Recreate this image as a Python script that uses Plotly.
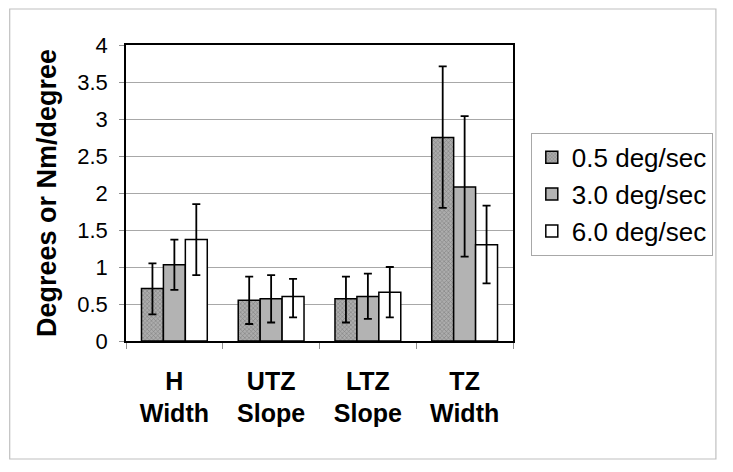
import plotly.graph_objects as go

categories = ["H Width", "UTZ Slope", "LTZ Slope", "TZ Width"]
tick_labels = ["<b>H</b><br><b>Width</b>", "<b>UTZ</b><br><b>Slope</b>",
               "<b>LTZ</b><br><b>Slope</b>", "<b>TZ</b><br><b>Width</b>"]
series_names = ["0.5 deg/sec", "3.0 deg/sec", "6.0 deg/sec"]
values_05 = [0.71, 0.55, 0.57, 2.75]
upper_05 = [1.05, 0.87, 0.87, 3.71]
lower_05 = [0.36, 0.23, 0.25, 1.80]
values_30 = [1.03, 0.57, 0.60, 2.08]
upper_30 = [1.37, 0.89, 0.91, 3.04]
lower_30 = [0.69, 0.25, 0.30, 1.14]
values_60 = [1.37, 0.60, 0.66, 1.30]
upper_60 = [1.85, 0.84, 1.00, 1.83]
lower_60 = [0.89, 0.32, 0.32, 0.78]

fig = go.Figure()
styles = [
    dict(color="#a0a0a0", pattern=dict(shape="x", size=3, fgcolor="#505050", bgcolor="#adadad", solidity=0.35)),
    dict(color="#b3b3b3"),
    dict(color="#ffffff"),
]
data = [(values_05, upper_05, lower_05), (values_30, upper_30, lower_30), (values_60, upper_60, lower_60)]
for name, (v, up, lo), st in zip(series_names, data, styles):
    fig.add_trace(go.Bar(
        x=categories, y=v, name=name,
        marker=dict(line=dict(color="black", width=1.5), **st),
        error_y=dict(type="data", symmetric=False,
                     array=[u - a for u, a in zip(up, v)],
                     arrayminus=[a - l for a, l in zip(v, lo)],
                     color="black", thickness=1.8, width=4),
    ))

fig.update_layout(
    width=717, height=456,
    margin=dict(l=118, r=208, t=37, b=123),
    paper_bgcolor="white", plot_bgcolor="white",
    barmode="group", bargap=0.32, bargroupgap=0,
    font=dict(family="Liberation Sans, Arial", size=21, color="black"),
    showlegend=True,
    legend=dict(x=1.046, y=0.703, xanchor="left", yanchor="top",
                bordercolor="#a8a8a8", borderwidth=1,
                font=dict(size=26), itemwidth=30, tracegroupgap=0),
    yaxis=dict(range=[0, 4], dtick=0.5, showgrid=True, gridcolor="#a8a8a8",
               ticks="outside", ticklen=5, tickcolor="#909090",
               showline=True, linecolor="black", linewidth=1.5, mirror=True,
               tickfont=dict(size=22), zeroline=False, ticklabelstandoff=7,
               title=dict(text="<b>Degrees or Nm/degree</b>", font=dict(size=27), standoff=13)),
    xaxis=dict(showline=True, linecolor="black", linewidth=1.5, mirror=True,
               ticks="outside", tickson="boundaries", ticklen=6, tickcolor="#909090",
               tickfont=dict(size=25), ticklabelstandoff=17,
               tickvals=categories, ticktext=tick_labels),
    shapes=[dict(type="rect", xref="paper", yref="paper",
                 x0=-0.3005, x1=1.5243, y0=-0.3986, y1=1.1216,
                 line=dict(color="#c0c0c0", width=1.2))],
)

fig.write_html("out.html")
